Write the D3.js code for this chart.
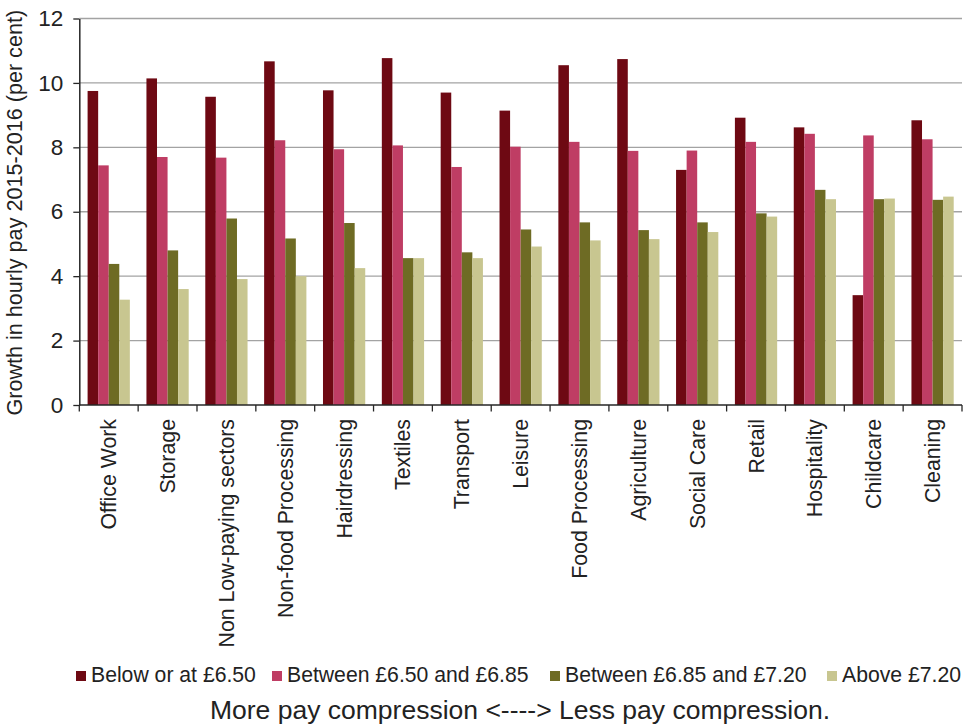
<!DOCTYPE html>
<html>
<head>
<meta charset="utf-8">
<script src="https://cdn.jsdelivr.net/npm/d3@7"></script>
<style>
  html, body { margin: 0; padding: 0; background: #fff; }
  svg { display: block; font-family: "Liberation Sans", Arial, sans-serif; }
</style>
</head>
<body>
<svg id="chart" width="970" height="727"></svg>
<script>
const categories = ["Office Work", "Storage", "Non Low-paying sectors", "Non-food Processing", "Hairdressing", "Textiles", "Transport", "Leisure", "Food Processing", "Agriculture", "Social Care", "Retail", "Hospitality", "Childcare", "Cleaning"];
const seriesNames = ["Below or at £6.50", "Between £6.50 and £6.85", "Between £6.85 and £7.20", "Above £7.20"];
const belowOrAt650 = [9.75, 10.14, 9.57, 10.67, 9.77, 10.77, 9.70, 9.14, 10.55, 10.74, 7.30, 8.92, 8.62, 3.41, 8.84];
const between650and685 = [7.44, 7.70, 7.68, 8.22, 7.94, 8.06, 7.39, 8.02, 8.17, 7.89, 7.90, 8.17, 8.42, 8.37, 8.25];
const between685and720 = [4.38, 4.80, 5.79, 5.17, 5.65, 4.56, 4.74, 5.45, 5.67, 5.43, 5.67, 5.95, 6.68, 6.39, 6.37];
const above720 = [3.27, 3.60, 3.91, 4.00, 4.25, 4.56, 4.56, 4.92, 5.11, 5.15, 5.37, 5.85, 6.39, 6.41, 6.47];
const yTicks = [0, 2, 4, 6, 8, 10, 12];
const yTitle = "Growth in hourly pay 2015-2016 (per cent)";
const bottomTitle = "More pay compression <----> Less pay compression.";

(function () {
const seriesValues = [belowOrAt650, between650and685, between685and720, above720];
const colors = ["#6e0913", "#bf3d64", "#6e6b24", "#c8c690"];

const svg = d3.select("#chart");
const pLeft = 79.3, pRight = 962, pTop = 18.5, pBottom = 405;

const x = d3.scaleBand().domain(categories).range([pLeft, pRight]).paddingInner(0).paddingOuter(0);
const bw = x.bandwidth();
const off = bw * 0.141;
const xs = d3.scaleBand().domain(d3.range(seriesNames.length)).range([off, bw - off]).padding(0);
const y = d3.scaleLinear().domain([0, 12]).range([pBottom, pTop]);

// gridlines
svg.append("g").selectAll("line").data(yTicks.filter(d => d > 0)).join("line")
  .attr("x1", pLeft).attr("x2", pRight)
  .attr("y1", d => y(d)).attr("y2", d => y(d))
  .attr("stroke", "#a3a3a3").attr("stroke-width", 1.4);

// bars
const groups = svg.append("g").selectAll("g").data(categories).join("g")
  .attr("transform", d => `translate(${x(d)},0)`);
groups.selectAll("rect").data((d, i) => seriesValues.map((s, k) => ({k, v: s[i]}))).join("rect")
  .attr("x", d => xs(d.k)).attr("width", xs.bandwidth())
  .attr("y", d => y(d.v)).attr("height", d => y(0) - y(d.v))
  .attr("fill", d => colors[d.k]);

// y axis
const yAxis = svg.append("g").attr("transform", `translate(${pLeft},0)`)
  .call(d3.axisLeft(y).tickValues(yTicks).tickSize(6).tickPadding(10).tickSizeOuter(0));
yAxis.select(".domain").attr("stroke", "#262626").attr("stroke-width", 1.5);
yAxis.selectAll(".tick line").attr("stroke", "#262626").attr("stroke-width", 1.3);
yAxis.selectAll(".tick text").attr("font-size", 22.5).attr("fill", "#222").attr("font-family", "Liberation Sans, Arial, sans-serif");

// x axis line with boundary ticks
const xAxisG = svg.append("g");
xAxisG.append("line").attr("x1", pLeft).attr("x2", pRight).attr("y1", pBottom).attr("y2", pBottom)
  .attr("stroke", "#262626").attr("stroke-width", 1.5);
const boundaries = categories.map(c => x(c)).concat([pRight]);
xAxisG.selectAll("line.b").data(boundaries).join("line").attr("class", "b")
  .attr("x1", d => d).attr("x2", d => d).attr("y1", pBottom).attr("y2", pBottom + 6.5)
  .attr("stroke", "#262626").attr("stroke-width", 1.3);

// x labels
svg.append("g").selectAll("text").data(categories).join("text")
  .attr("transform", d => `translate(${x(d) + bw / 2},419) rotate(-90)`)
  .attr("text-anchor", "end").attr("dy", "0.35em")
  .attr("font-size", 21.3).attr("fill", "#222")
  .text(d => d);

// y title
svg.append("text")
  .attr("transform", `translate(22,${(pTop + pBottom) / 2 + 1}) rotate(-90)`)
  .attr("text-anchor", "middle")
  .attr("font-size", 21.6).attr("fill", "#222")
  .text(yTitle);

// legend
const legendSquareX = [76, 272, 550, 827];
const lg = svg.append("g").selectAll("g").data(seriesNames).join("g")
  .attr("transform", (d, i) => `translate(${legendSquareX[i]},0)`);
lg.append("rect").attr("x", 0).attr("y", 671).attr("width", 10).attr("height", 10)
  .attr("fill", (d, i) => colors[i]);
lg.append("text").attr("x", 15).attr("y", 681.5)
  .attr("font-size", 21.2).attr("fill", "#222").text(d => d);

// bottom title
svg.append("text").attr("x", 520).attr("y", 719).attr("text-anchor", "middle")
  .attr("font-size", 26.5).attr("fill", "#222").text(bottomTitle);
})();
</script>
</body>
</html>
